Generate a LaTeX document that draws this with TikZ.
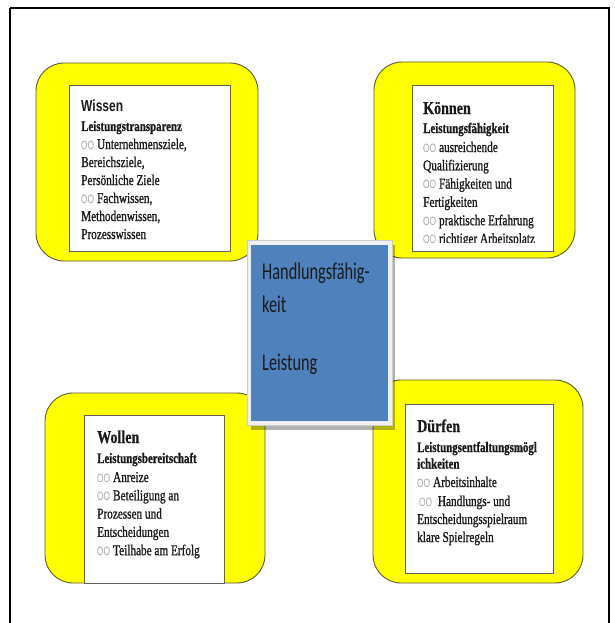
\documentclass[tikz,border=0pt]{standalone}
\usepackage{fontspec}
\newfontfamily\bodyf[FakeStretch=0.75,FakeBold=1]{Liberation Serif}
\newfontfamily\headf[FakeStretch=0.78,FakeBold=0.6]{Liberation Serif}
\newfontfamily\headsans[FakeStretch=0.75]{Liberation Sans}
\newfontfamily\oofont[FakeStretch=0.7]{Liberation Sans}
\newfontfamily\bluef[FakeStretch=0.68]{Carlito}
\definecolor{boxyellow}{HTML}{FFFF00}
\definecolor{yedge}{HTML}{5A5A40}
\definecolor{wedge}{HTML}{606060}
\definecolor{oogray}{HTML}{A8A8A8}
\definecolor{cblue}{HTML}{4F81BD}
\definecolor{cframe}{HTML}{F0F0F0}
\definecolor{txt}{HTML}{1A1A1A}
\newcommand\oomark{{\oofont\fontsize{12}{12}\selectfont\color{oogray}OO}\ }
\tikzset{
  yellowbox/.style={fill=boxyellow, draw=yedge, line width=0.9pt, rounded corners=28pt},
  whitebox/.style={fill=white, draw=wedge, line width=1pt},
  bodytext/.style={inner sep=0pt, anchor=base west, text=txt, font=\bodyf\fontsize{15}{18}\selectfont},
  boldtext/.style={bodytext, font=\bodyf\bfseries\fontsize{14.5}{18}\selectfont},
  headserif/.style={inner sep=0pt, anchor=base west, text=txt, font=\headf\bfseries\fontsize{18}{20}\selectfont},
  headsanstext/.style={inner sep=0pt, anchor=base west, text=txt, font=\headsans\bfseries\fontsize{16}{18}\selectfont},
  bluetext/.style={inner sep=0pt, anchor=base west, text=txt, font=\bluef\fontsize{24}{28}\selectfont}
}
\begin{document}
\begin{tikzpicture}[x=1pt,y=-1pt]
\useasboundingbox (0,0) rectangle (614,623);
% outer frame
\draw[line width=1.6pt, black] (10,8) -- (609,8) -- (609,640) (10,640) -- (10,8);
% yellow boxes
\path[yellowbox] (36,63) rectangle (258,261);
\path[yellowbox] (374,62) rectangle (575,258);
\path[yellowbox] (45,393) rectangle (265,583);
\path[yellowbox] (373,380) rectangle (583,583);
% white boxes
\path[whitebox] (69,86) rectangle (230,251);
\path[whitebox] (412,86) rectangle (553,251);
\path[whitebox] (84,415) rectangle (224,583);
\path[whitebox] (405,404) rectangle (553,573);
% Wissen
\node[headsanstext] (w0) at (81,111) {Wissen};
\node[boldtext] (w1) at (81,131) {Leistungstransparenz};
\foreach \t [count=\i] in {{\oomark Unternehmensziele,},{Bereichsziele,},{Pers\"onliche Ziele},{\oomark Fachwissen,},{Methodenwissen,},{Prozesswissen}}
  \node[bodytext] (wl\i) at (81,{149+18*(\i-1)}) {\t};
% Koennen
\begin{scope}
\clip (412,86) rectangle (553,242);
\node[headserif] (k0) at (423,114) {K\"onnen};
\node[boldtext] (k1) at (423,133) {Leistungsf\"ahigkeit};
\foreach \t [count=\i] in {{\oomark ausreichende},{Qualifizierung},{\oomark F\"ahigkeiten und},{Fertigkeiten},{\oomark praktische Erfahrung},{\oomark richtiger Arbeitsplatz}}
  \node[bodytext] (kl\i) at (423,{152+18.3*(\i-1)}) {\t};
\end{scope}
% Wollen
\node[headserif] (o0) at (97,443) {Wollen};
\node[boldtext] (o1) at (97,463) {Leistungsbereitschaft};
\foreach \t [count=\i] in {{\oomark Anreize},{\oomark Beteiligung an},{Prozessen und},{Entscheidungen},{\oomark Teilhabe am Erfolg}}
  \node[bodytext] (ol\i) at (97,{482+18.3*(\i-1)}) {\t};
% Duerfen
\node[headserif] (d0) at (417,432) {D\"urfen};
\node[boldtext] (d1) at (417,452) {Leistungsentfaltungsm\"ogl};
\node[boldtext] (d2) at (417,468.5) {ichkeiten};
\node[bodytext] (dl1) at (417,487) {\oomark Arbeitsinhalte};
\node[bodytext] (dl2) at (419,506) {\oomark\ Handlungs- und};
\node[bodytext] (dl3) at (417,524) {Entscheidungsspielraum};
\node[bodytext] (dl4) at (417,542) {klare Spielregeln};
% centre box
\fill[black, opacity=0.3] (251,245) rectangle (395,430);
\path[fill=cframe, draw=black!20, line width=0.5pt] (247,240) rectangle (392,425);
\fill[cblue] (251,245) rectangle (388,421);
\node[bluetext] (c1) at (262,279) {Handlungsf\"ahig-};
\node[bluetext] (c2) at (262,312) {keit};
\node[bluetext] (c3) at (262,370) {Leistung};
\end{tikzpicture}
\end{document}
